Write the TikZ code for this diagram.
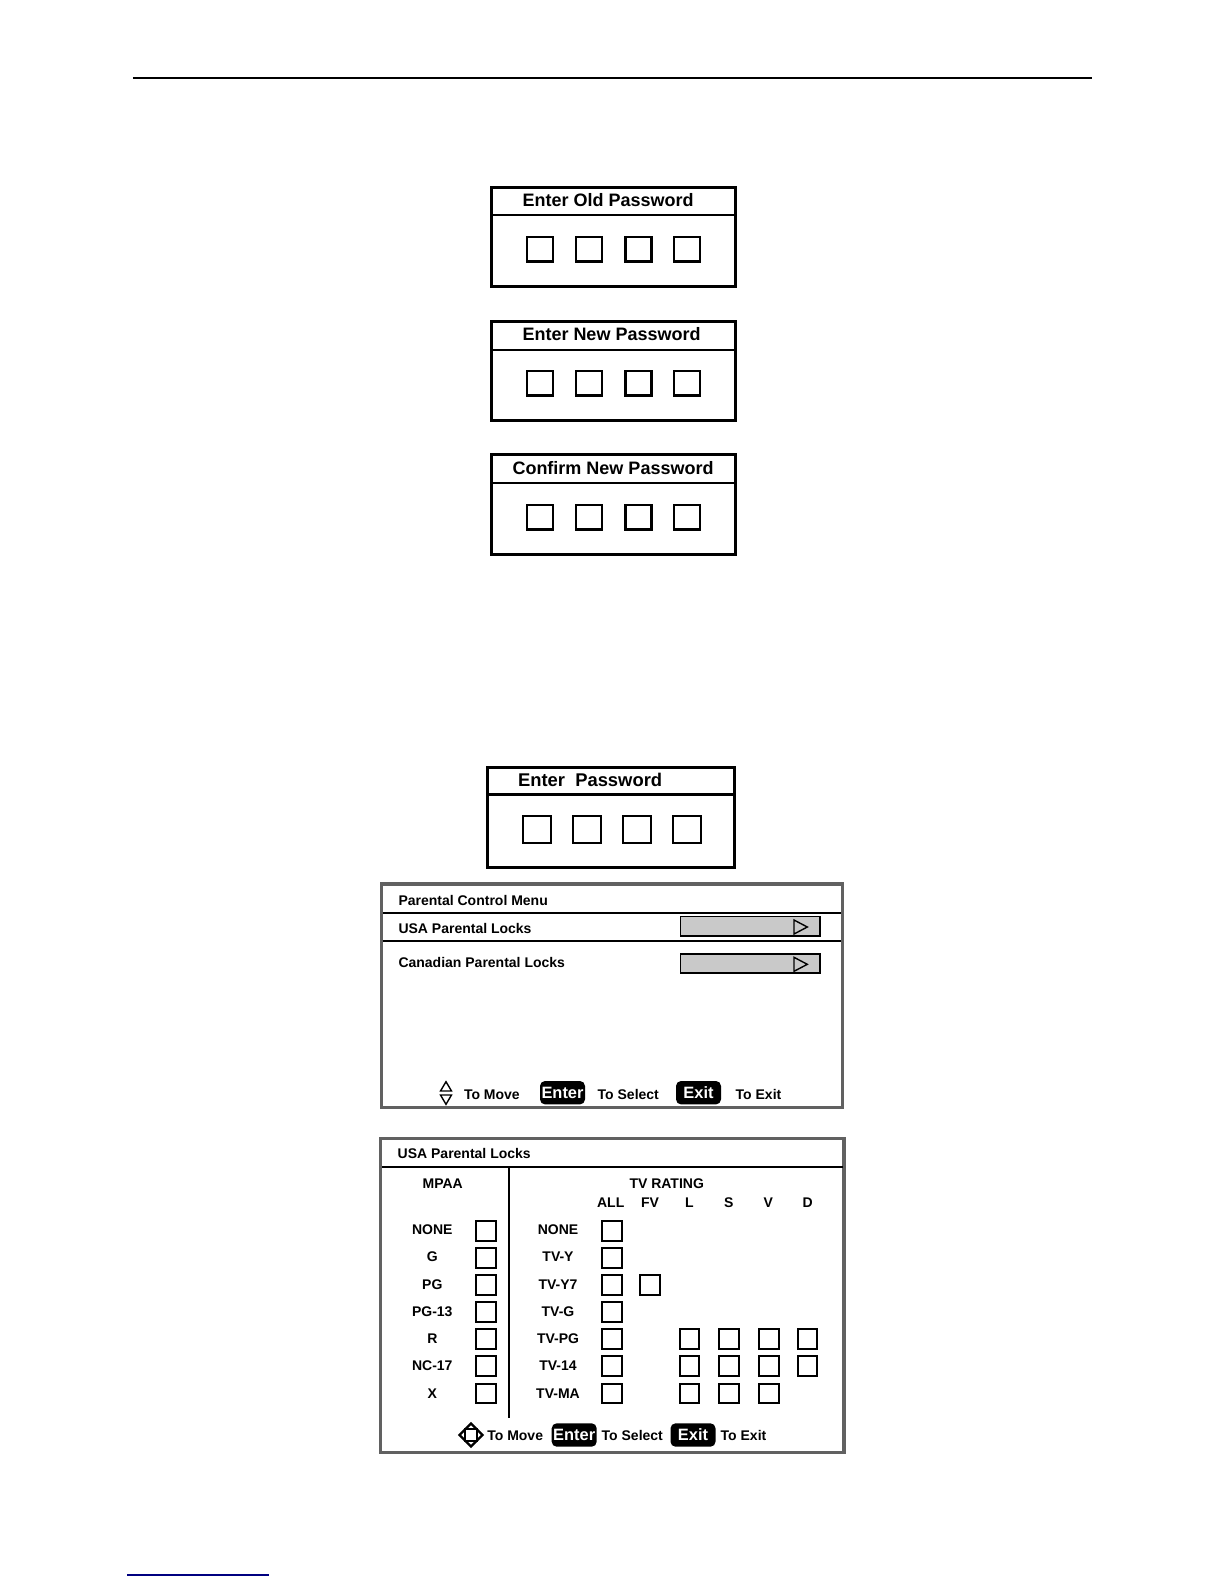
\documentclass[tikz,border=0pt]{standalone}
\usepackage{fontspec}
\setmainfont{Liberation Sans}
\tikzset{
  every node/.style={inner sep=0pt,outer sep=0pt,font=\fontsize{7}{8}\selectfont\bfseries},
  panel/.style={draw=black,line width=1.5pt,fill=white},
  rule/.style={draw=black,line width=1pt},
  pwbox/.style={draw=black,line width=1.2pt,fill=white,minimum width=13pt,minimum height=12.3pt},
  pwtitle/.style={anchor=base west,font=\fontsize{9}{10}\selectfont\bfseries},
  screen/.style={draw=black!62,line width=1.6pt,fill=white},
  menutext/.style={anchor=base west,font=\fontsize{7}{8}\selectfont\bfseries},
  ratinglabel/.style={anchor=base,font=\fontsize{7}{8}\selectfont\bfseries},
  chk/.style={draw=black,line width=1pt,fill=white,minimum width=9.8pt,minimum height=9.8pt},
  slot/.style={draw=black,line width=0.9pt,fill=black!21},
  arrowtri/.style={draw=black,line width=0.7pt,fill=white,line join=miter},
  pill/.style={fill=black,rounded corners=2.5pt,text=white,minimum height=11.7pt,minimum width=22.5pt,font=\fontsize{8.2}{9}\selectfont\bfseries},
  hint/.style={anchor=base west,font=\fontsize{7}{8}\selectfont\bfseries},
}
\begin{document}
\begin{tikzpicture}[x=0.5pt,y=-0.5pt]
\useasboundingbox (0,0) rectangle (1224,1584);
\fill[white] (0,0) rectangle (1224,1584);
% top rule and footer link rule
\coordinate (tl) at (132.8,78); \coordinate (tr) at (1092,78);
\draw[black,line width=1pt] (tl) -- (tr);
\coordinate (bl) at (127,1575); \coordinate (br) at (269,1575);
\draw[blue!50!black,line width=0.7pt] (bl) -- (br);
% password boxes
\newcommand{\pwpanel}[9]{% name, xl, xr, yt, yb, ydiv, ysq, title, titlex
  \node[panel,minimum width=#3pt*0.5-#2pt*0.5,minimum height=#5pt*0.5-#4pt*0.5,anchor=north west] (#1) at (#2,#4) {};
  \coordinate (#1dl) at (#2,#6); \coordinate (#1dr) at (#3,#6);
  \draw[rule] (#1dl) -- (#1dr);
  \node[pwtitle] (#1t) at (#9,#6-9) {#8};
  \node[pwbox] (#1a) at (540,#7) {};
  \node[pwbox] (#1b) at (589,#7) {};
  \node[pwbox] (#1c) at (638.3,#7) {};
  \node[pwbox] (#1d) at (687,#7) {};
}
\pwpanel{old}{491.7}{735}{187.3}{286.3}{215}{249}{Enter Old Password}{522.5}
\pwpanel{new}{491.7}{735}{321}{420}{349.5}{383}{Enter New Password}{522.5}
\pwpanel{con}{491.7}{735}{454.6}{554.6}{483}{517}{Confirm New Password}{512.5}
% enter password
\node[panel,minimum width=123.8pt,minimum height=50.1pt,anchor=north west] (ent) at (487,767) {};
\coordinate (entl) at (487,794.3); \coordinate (entr) at (735,794.3);
\draw[draw=black,line width=1.3pt] (entl) -- (entr);
\node[pwtitle,font=\fontsize{9.2}{10}\selectfont\bfseries] (entt) at (518,786.5) {Enter\ \ Password};
\foreach \n/\x in {a/536.8,b/587.2,c/636.8,d/687}
  \node[pwbox,minimum width=14pt,minimum height=13.3pt] (ent\n) at (\x,829.5) {};
% parental control menu
\node[screen,minimum width=230.7pt,minimum height=111.8pt,anchor=north west] (menu) at (381.3,884) {};
\coordinate (m1l) at (383,912.7); \coordinate (m1r) at (841,912.7);
\draw[draw=black,line width=1.2pt] (m1l) -- (m1r);
\coordinate (m2l) at (383,940.8); \coordinate (m2r) at (841,940.8);
\draw[draw=black,line width=1pt] (m2l) -- (m2r);
\node[menutext] (mt1) at (398.5,905) {Parental Control Menu};
\node[menutext] (mt2) at (398.5,933.3) {USA Parental Locks};
\node[menutext] (mt3) at (398.5,967.3) {Canadian Parental Locks};
\node[slot,minimum width=69.6pt,minimum height=9.6pt,anchor=north west] (s1) at (680.5,916.5) {};
\node[slot,minimum width=69.6pt,minimum height=9.6pt,anchor=north west] (s2) at (680.5,953.8) {};
\draw[arrowtri,fill=none] (794,920) -- (807.3,927) -- (794,934) -- cycle;
\draw[arrowtri,fill=none] (794,957.3) -- (807.3,964.3) -- (794,971.3) -- cycle;
\draw[arrowtri] (440.5,1091) -- (446,1081.7) -- (451.5,1091) -- cycle;
\draw[arrowtri] (440.5,1095) -- (446,1104.3) -- (451.5,1095) -- cycle;
\node[hint] (h1) at (464,1099) {To Move};
\node[pill] (p1) at (562.5,1092.7) {Enter};
\node[hint] (h2) at (597.7,1099) {To Select};
\node[pill] (p2) at (698.5,1092.7) {Exit};
\node[hint] (h3) at (735.7,1099) {To Exit};
% USA parental locks
\node[screen,minimum width=231.6pt,minimum height=157.2pt,anchor=north west] (usa) at (380.7,1138.3) {};
\coordinate (u1l) at (382,1166.7); \coordinate (u1r) at (843,1166.7);
\draw[draw=black,line width=0.9pt] (u1l) -- (u1r);
\coordinate (u2t) at (509,1166.7); \coordinate (u2b) at (509,1418.3);
\draw[draw=black,line width=1.1pt] (u2t) -- (u2b);
\node[menutext] (ut) at (397.7,1158.3) {USA Parental Locks};
\node[ratinglabel] (mpaa) at (442.7,1188) {MPAA};
\node[ratinglabel] (tvr) at (666.7,1188) {TV RATING};
\foreach \n/\t/\x in {all/ALL/610.7,fv/FV/650,l/L/689.3,s/S/728.7,v/V/768.3,dd/D/807.7}
  \node[ratinglabel] (h\n) at (\x,1207) {\t};
\foreach \n/\t/\y/\b in {a/NONE/1230.7/1234.5,b/G/1257.7/1261.8,c/PG/1285/1289,d/PG-13/1312/1316.2,e/R/1339/1343.5,f/NC-17/1366/1370.8,g/X/1393.3/1398}{
  \node[ratinglabel] (ml\n) at (432.3,\b) {\t};
  \node[chk] (mb\n) at (486,\y) {};
}
\foreach \n/\t/\y/\b in {a/NONE/1230.7/1234.5,b/TV-Y/1257.7/1261.8,c/TV-Y7/1285/1289,d/TV-G/1312/1316.2,e/TV-PG/1339/1343.5,f/TV-14/1366/1370.8,g/TV-MA/1393.3/1398}{
  \node[ratinglabel] (tl\n) at (558,\b) {\t};
  \node[chk] (tb\n) at (612,\y) {};
}
\node[chk] (fvc) at (650,1285) {};
\foreach \n/\y in {e/1339,f/1366,g/1393.3}{
  \node[chk] (cl\n) at (689.5,\y) {};
  \node[chk] (cs\n) at (729,\y) {};
  \node[chk] (cv\n) at (768.7,\y) {};
}
\node[chk] (cde) at (807.3,1339) {};
\node[chk] (cdf) at (807.3,1366) {};
% four-way arrow
\draw[draw=black,line width=1.1pt,fill=white,line join=miter] (471,1423.5) -- (482.5,1435) -- (471,1446.5) -- (459.5,1435) -- cycle;
\draw[draw=black,line width=0.6pt,fill=white] (465,1429) rectangle (477,1441);
\node[hint] (u3) at (487.3,1440.7) {To Move};
\node[pill] (up1) at (574.2,1435) {Enter};
\node[hint] (u4) at (601.7,1440.7) {To Select};
\node[pill] (up2) at (693,1435) {Exit};
\node[hint] (u5) at (720.7,1440.7) {To Exit};
\end{tikzpicture}
\end{document}
